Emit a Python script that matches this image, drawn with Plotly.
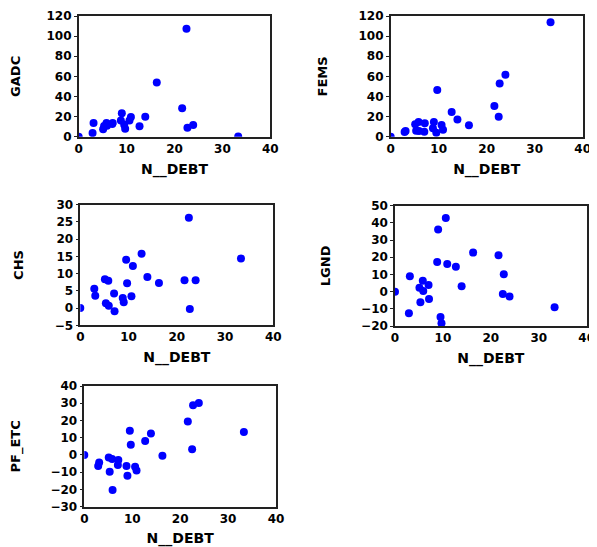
import plotly.graph_objects as go

# Shared x variable
N_DEBT = [0, 2.9, 3.1, 5.1, 5.3, 5.8, 5.9, 7.0, 7.1, 8.8, 9.0, 9.5, 9.7,
          10.6, 10.9, 12.7, 13.9, 16.3, 21.6, 22.5, 22.7, 23.9, 33.3]

GADC = [0, 3.6, 13.6, 7.3, 10.6, 13.6, 11.0, 12.6, 13.5, 16.2, 23.2, 12.0, 7.9,
        16.2, 19.6, 10.3, 19.9, 54.0, 28.2, 107.4, 9.0, 11.6, 0.3]
FEMS = [0, 4.6, 5.6, 12.3, 6.0, 14.6, 5.6, 5.0, 13.3, 8.3, 14.6, 4.0, 46.4,
        11.6, 7.0, 24.5, 17.2, 11.3, 30.5, 19.9, 53.0, 61.6, 113.7]
CHS = [0, 5.6, 3.6, 8.4, 1.4, 7.9, 0.7, 4.2, -0.9, 2.9, 1.7, 14.0, 7.2,
       3.4, 12.2, 15.8, 9.0, 7.3, 8.1, 26.2, -0.3, 8.1, 14.4]
LGND = [0, -12.6, 8.9, 2.3, -6.2, 6.4, 0.4, 3.8, -4.3, 17.2, 36.2, -14.8, -18.4,
        42.8, 16.1, 14.5, 3.1, 22.7, 21.1, -1.4, 10.1, -2.9, -9.1]
PF_ETC = [0, -6.4, -4.4, -1.5, -9.8, -2.3, -20.3, -5.8, -2.9, -6.4, -12.0, 14.1, 6.0,
          -6.8, -9.0, 8.1, 12.5, -0.4, 19.4, 3.3, 28.9, 30.1, 13.3]

X_LABEL = "N__DEBT"
panels = [
    ("GADC", GADC, [0, 120], 20),
    ("FEMS", FEMS, [0, 120], 20),
    ("CHS", CHS, [-5, 30], 5),
    ("LGND", LGND, [-20, 50], 10),
    ("PF_ETC", PF_ETC, [-30, 40], 10),
]

# the page body has an 8px margin, so the figure is drawn 8px in
OFF = 8
W, H = 597 - OFF, 547 - OFF
# plot-area boxes in window pixels: (left, right, top, bottom)
boxes = [
    (78.7, 270.3, 16.0, 136.7),
    (390.7, 582.7, 16.0, 136.7),
    (80.3, 273.3, 204.7, 325.3),
    (395.0, 586.7, 205.7, 326.0),
    (84.3, 276.0, 386.0, 506.7),
]

FONT = "DejaVu Sans"
fig = go.Figure()
layout = dict(
    width=W, height=H, margin=dict(l=0, r=0, t=0, b=0),
    paper_bgcolor="white", plot_bgcolor="white", showlegend=False,
)

for i, ((name, vals, yr, dt), (l, r, t, b)) in enumerate(zip(panels, boxes)):
    k = "" if i == 0 else str(i + 1)
    l, r, t, b = l - OFF, r - OFF, t - OFF, b - OFF
    fig.add_trace(go.Scatter(
        x=N_DEBT, y=vals, mode="markers", xaxis="x" + k, yaxis="y" + k,
        marker=dict(color="#0000FF", size=8, line=dict(width=0)),
    ))
    common = dict(
        showgrid=False, zeroline=False, showline=True, linecolor="#222222",
        linewidth=1.5, mirror=True, automargin=False,
        tickfont=dict(family=FONT, size=12, color="black", weight="bold"),
    )
    layout["xaxis" + k] = dict(
        common, domain=[l / W, r / W], anchor="y" + k, range=[0, 40],
        tickmode="linear", tick0=0, dtick=10, ticks="",
        title=dict(text=X_LABEL, standoff=9,
                   font=dict(family=FONT, size=14, color="black", weight="bold")),
    )
    layout["yaxis" + k] = dict(
        common, domain=[1 - b / H, 1 - t / H], anchor="x" + k, range=yr,
        tickmode="linear", tick0=yr[0], dtick=dt, ticks="outside", ticklen=3,
        tickcolor="#222222",
        title=dict(text=name, standoff=28,
                   font=dict(family=FONT, size=13, color="black", weight="bold")),
    )

fig.update_layout(**layout)
fig.write_html("out.html")
